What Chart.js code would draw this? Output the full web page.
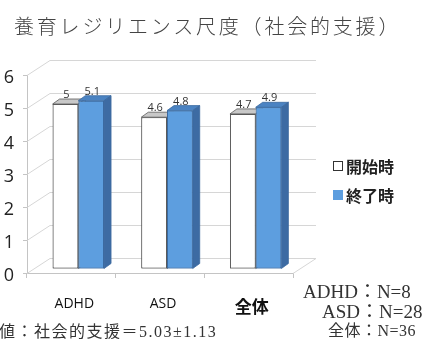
<!DOCTYPE html>
<html><head><meta charset="utf-8">
<script src="https://cdn.jsdelivr.net/npm/chart.js@4"></script>
<style>
html,body{margin:0;padding:0;background:#fff;}
#wrap{position:relative;width:423px;height:343px;overflow:hidden;}
canvas{position:absolute;left:0;top:0;}
.t{position:absolute;white-space:nowrap;color:#333;line-height:1;}
#title{left:14px;top:11px;font:300 20px "Noto Sans CJK JP",sans-serif;letter-spacing:2.8px;color:#444;}
.ser{font-family:"Liberation Serif","Noto Sans CJK JP",serif;color:#333;}
</style></head>
<body><div id="wrap">
<canvas id="c" width="423" height="343"></canvas>
<div id="title" class="t">養育レジリエンス尺度（社会的支援）</div>
<div class="t ser" style="left:303px;top:282px;font-size:19px;">ADHD：N=8</div>
<div class="t ser" style="left:322px;top:302px;font-size:19px;">ASD：N=28</div>
<div class="t ser" style="left:328px;top:323px;font-size:16px;letter-spacing:0.5px;">全体：N=36</div>
<div class="t ser" style="left:-1px;top:324px;font-size:16px;letter-spacing:1.5px;">値：社会的支援＝5.03±1.13</div>
</div>
<script>
const categories = ['ADHD', 'ASD', '全体'];
const seriesNames = ['開始時', '終了時'];
const startValues = [5.0, 4.6, 4.7];
const endValues = [5.1, 4.8, 4.9];
const yTicks = [0, 1, 2, 3, 4, 5, 6];

const SHIFT = {x: 7, y: -4};     // bar plane offset from front plane
const DEPTH = {x: 7, y: -5};     // bar depth
const WALL = {x: 23, y: -15};    // back wall offset
const faceColors = [
  {front: '#ffffff', top: '#c8c8c8', side: '#bdbdbd', border: '#5a5a5a'},
  {front: '#5d9edf', top: '#4b83c2', side: '#3d6ba3', border: '#3b6aa0'}
];

const wallPlugin = {
  id: 'wall',
  beforeDatasetsDraw(chart) {
    const ctx = chart.ctx, ys = chart.scales.y, a = chart.chartArea;
    ctx.save();
    ctx.strokeStyle = '#d6d6d6';
    ctx.lineWidth = 1;
    yTicks.forEach(v => {
      const y = Math.round(ys.getPixelForValue(v)) + 0.5;
      ctx.beginPath();
      ctx.moveTo(a.left, y);
      ctx.lineTo(a.left + WALL.x, y + WALL.y);
      ctx.lineTo(a.right + WALL.x, y + WALL.y);
      ctx.stroke();
    });
    const y0 = Math.round(ys.getPixelForValue(0)) + 0.5;
    ctx.beginPath();
    ctx.moveTo(a.right, y0);
    ctx.lineTo(a.right + WALL.x, y0 + WALL.y);
    ctx.stroke();
    ctx.restore();
    ctx.save();
    ctx.translate(SHIFT.x, SHIFT.y);
  },
  afterDatasetsDraw(chart) {
    const ctx = chart.ctx;
    categories.forEach((c, i) => {
      chart.data.datasets.forEach((ds, d) => {
        const el = chart.getDatasetMeta(d).data[i];
        el.draw(ctx);
        const L = el.x - el.width / 2, R = el.x + el.width / 2, T = el.y, B = el.base;
        const col = faceColors[d];
        ctx.lineWidth = 0.8;
        ctx.strokeStyle = col.border;
        ctx.fillStyle = col.top;
        ctx.beginPath();
        ctx.moveTo(L, T); ctx.lineTo(L + DEPTH.x, T + DEPTH.y);
        ctx.lineTo(R + DEPTH.x, T + DEPTH.y); ctx.lineTo(R, T); ctx.closePath();
        ctx.fill(); ctx.stroke();
        ctx.fillStyle = col.side;
        ctx.beginPath();
        ctx.moveTo(R, T); ctx.lineTo(R + DEPTH.x, T + DEPTH.y);
        ctx.lineTo(R + DEPTH.x, B + DEPTH.y); ctx.lineTo(R, B); ctx.closePath();
        ctx.fill(); ctx.stroke();
      });
    });
    ctx.fillStyle = '#333';
    ctx.font = '11px "Open Sans", sans-serif';
    ctx.textAlign = 'center';
    ctx.textBaseline = 'middle';
    chart.data.datasets.forEach((ds, d) => {
      chart.getDatasetMeta(d).data.forEach((el, i) => {
        ctx.fillText(String(ds.data[i]), el.x + 1, el.y - 9);
      });
    });
    ctx.restore();
    ctx.save();
    ctx.font = 'bold 16px "Noto Sans CJK JP", sans-serif';
    ctx.textBaseline = 'middle';
    ctx.textAlign = 'left';
    chart.data.datasets.forEach((ds, d) => {
      const y = 166 + d * 29;
      ctx.fillStyle = faceColors[d].front;
      ctx.fillRect(333, y - 5, 10, 10);
      if (d === 0) { ctx.strokeStyle = '#333'; ctx.lineWidth = 1; ctx.strokeRect(333.5, y - 4.5, 9, 9); }
      ctx.fillStyle = '#222';
      ctx.fillText(ds.label, 346, y + 1);
    });
    ctx.restore();
  }
};

new Chart(document.getElementById('c'), {
  type: 'bar',
  data: {
    labels: categories,
    datasets: [
      {label: seriesNames[0], data: startValues, backgroundColor: faceColors[0].front,
       borderColor: faceColors[0].border, borderWidth: 1, borderSkipped: false},
      {label: seriesNames[1], data: endValues, backgroundColor: faceColors[1].front,
       borderColor: faceColors[1].border, borderWidth: 1, borderSkipped: false}
    ]
  },
  options: {
    responsive: false,
    animation: false,
    events: [],
    layout: {padding: {left: 0, top: 75, right: 130, bottom: 0}},
    datasets: {bar: {categoryPercentage: 0.58, barPercentage: 1.0}},
    plugins: {legend: {display: false}, tooltip: {enabled: false}},
    scales: {
      y: {
        min: 0, max: 6,
        afterFit(s) { s.width = 27; },
        ticks: {stepSize: 1, padding: 9, labelOffset: 3, color: '#222',
                font: {size: 18, family: '"Open Sans", sans-serif'}},
        grid: {drawOnChartArea: false, tickLength: 4, color: '#c4c4c4'},
        border: {color: '#c4c4c4'}
      },
      x: {
        afterFit(s) { s.height = 70; },
        ticks: {padding: 18, labelOffset: 3, color: '#111',
                font: ctx => ctx.index === 2 ? {size: 17, weight: 'bold', family: '"Noto Sans CJK JP", sans-serif'}
                                             : {size: 14, family: '"Open Sans", sans-serif'}},
        grid: {drawOnChartArea: false, offset: true, tickLength: 5, color: '#c4c4c4'},
        border: {color: '#c4c4c4'}
      }
    }
  },
  plugins: [wallPlugin]
});
</script>
</body></html>
